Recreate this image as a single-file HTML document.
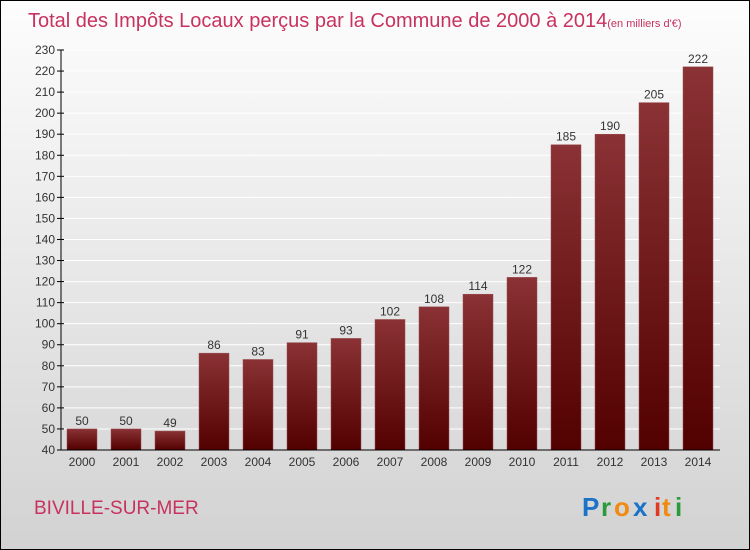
<!DOCTYPE html>
<html><head><meta charset="utf-8"><style>
body{margin:0;width:750px;height:550px;overflow:hidden}
svg{display:block}
text{font-family:"Liberation Sans",sans-serif}
</style></head><body>
<svg width="750" height="550">
<defs>
<linearGradient id="bg" x1="0" y1="0" x2="0" y2="1"><stop offset="0" stop-color="#fdfdfd"/><stop offset="1" stop-color="#d2d2d2"/></linearGradient>
<linearGradient id="bar" x1="0" y1="0" x2="0" y2="1"><stop offset="0" stop-color="#8a3235"/><stop offset="1" stop-color="#530000"/></linearGradient>
</defs>
<rect x="0.5" y="0.5" width="749" height="549" fill="url(#bg)" stroke="#000"/>
<text x="28" y="27" font-size="20" fill="#c8325f">Total des Impôts Locaux perçus par la Commune de 2000 à 2014<tspan font-size="11">(en milliers d'€)</tspan></text>
<g id="grid"></g><g id="bars"></g><g id="axes"></g>
<text x="34" y="514" font-size="19" fill="#c8325f">BIVILLE-SUR-MER</text>
<g font-size="26" font-weight="bold">
<text x="582" y="516" fill="#1a73c9">P</text><text x="601" y="516" fill="#2a9a3a">r</text><text x="614" y="516" fill="#f08a10">o</text><text x="633" y="516" fill="#1a73c9">x</text><text x="654" y="516" fill="#e03a20">i</text><text x="662" y="516" fill="#f08a10">t</text><text x="675" y="516" fill="#2a9a3a">i</text>
</g>
</svg>
<script>
const years=["2000","2001","2002","2003","2004","2005","2006","2007","2008","2009","2010","2011","2012","2013","2014"];
const values=[50,50,49,86,83,91,93,102,108,114,122,185,190,205,222];
const yTicks=[40,50,60,70,80,90,100,110,120,130,140,150,160,170,180,190,200,210,220,230];
const NS="http://www.w3.org/2000/svg";
const y=v=>450-(v-40)*400/190;
const x=i=>82+i*44;
function mk(t,a,p){const e=document.createElementNS(NS,t);for(const k in a)e.setAttribute(k,a[k]);p.appendChild(e);return e;}
const g=document.getElementById('grid'),b=document.getElementById('bars'),ax=document.getElementById('axes');
yTicks.forEach(v=>{
 const l=mk('line',{x1:61,x2:720,y1:y(v),y2:y(v),stroke:'#fff','stroke-width':1},g);
 
 
 mk('line',{x1:57,x2:64,y1:y(v),y2:y(v),stroke:'#000'},ax);
 const t=mk('text',{x:55,y:y(v)+4,'text-anchor':'end','font-size':12,fill:'#333'},ax);t.textContent=v;
 
 
});
values.forEach((v,i)=>{
 const r=mk('rect',{x:x(i)-15,y:y(v),width:30,height:450-y(v),fill:'url(#bar)',stroke:'#9a5050','stroke-width':0.5},b);
 
 
 const t=mk('text',{x:x(i),y:y(v)-4,'text-anchor':'middle','font-size':12,fill:'#333'},b);t.textContent=v;
 
 
 const xl=mk('text',{x:x(i),y:466,'text-anchor':'middle','font-size':12,fill:'#333'},ax);xl.textContent=years[i];
 
 
});
mk('line',{x1:61,x2:61,y1:y(230),y2:450,stroke:'#000'},ax);
mk('line',{x1:61,x2:720,y1:450,y2:450,stroke:'#000'},ax);
</script>
</body></html>
